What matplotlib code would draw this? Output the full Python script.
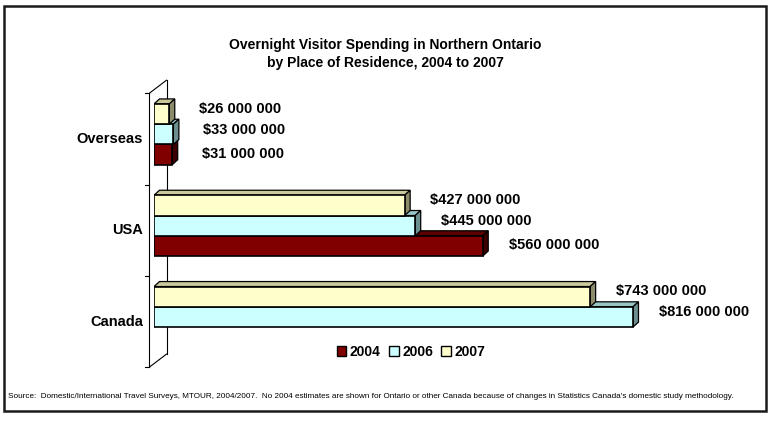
import numpy as np
import matplotlib
matplotlib.use('Agg')
import matplotlib.pyplot as plt
import matplotlib.transforms as mtransforms
from matplotlib.patches import Polygon, Rectangle, Patch

plt.rcParams['font.family'] = ['Liberation Sans', 'DejaVu Sans']

# spending in millions of dollars, bottom-to-top category order
categories = ['Canada', 'USA', 'Overseas']
years = ['2004', '2006', '2007']
spend_2004 = [np.nan, 560, 31]   # no 2004 estimate for Canada
spend_2006 = [816, 445, 33]
spend_2007 = [743, 427, 26]

title_1 = 'Overnight Visitor Spending in Northern Ontario'
title_2 = 'by Place of Residence, 2004 to 2007'
source = ("Source:  Domestic/International Travel Surveys, MTOUR, 2004/2007.  "
          "No 2004 estimates are shown for Ontario or other Canada because of "
          "changes in Statistics Canada's domestic study methodology.")

# front, top, side colours per series
colours = {
    '2004': ('#800000', '#5e0000', '#3d0000'),
    '2006': ('#ccffff', '#99c4c4', '#6b8f8f'),
    '2007': ('#ffffcc', '#c9c99b', '#8c8c6a'),
}

W, H = 770, 424
fig = plt.figure(figsize=(W / 100, H / 100), dpi=100)


def px_box(left, top, right, bottom):
    return [left / W, 1 - bottom / H, (right - left) / W, (bottom - top) / H]


ax_l, ax_t, ax_r, ax_b = 154, 88.7, 741, 362.6
ax = fig.add_axes(px_box(ax_l, ax_t, ax_r, ax_b))
ax.set_xlim(0, 1000)
ax.set_ylim(-0.5, 2.5)
ax.axis('off')

ax_wpx = ax_r - ax_l
ax_hpx = ax_b - ax_t
px_x = ax_wpx / 1000.0
px_y = ax_hpx / 3.0

# 3-D depth of the bars
ddx = 5.5 / px_x
ddy = 5.0 / px_y
bar_h = 0.222

# walls: front edge and back edge of the plot box
fx, fy = -4.7 / ax_wpx, -4.6 / ax_hpx
bx, by = 12.5 / ax_wpx, 8.5 / ax_hpx
wall = dict(transform=ax.transAxes, clip_on=False, color='black', lw=0.8, zorder=1)
ax.plot([fx, fx], [fy, 1 + fy], **wall)
ax.plot([bx, bx], [by, 1 + by], **wall)
ax.plot([fx, bx], [1 + fy, 1 + by], **wall)
ax.plot([fx, bx], [fy, by], **wall)
for t in [0, 1 / 3, 2 / 3, 1]:
    ax.plot([fx - 4 / ax_wpx, fx], [t + fy, t + fy], **wall)

# category labels on the front wall
cat_tr = (mtransforms.blended_transform_factory(ax.transAxes, ax.transData)
          + mtransforms.ScaledTranslation(0, -4.6 / 100, fig.dpi_scale_trans))
for i, name in enumerate(categories):
    ax.text((143 - ax_l) / ax_wpx, i, name, transform=cat_tr, ha='right',
            va='center', fontsize=10.5, fontweight='bold')

series = [('2004', spend_2004, -bar_h, 1.0),
          ('2006', spend_2006, 0.0, 4.5),
          ('2007', spend_2007, bar_h, 5.5)]

z = 2.0
for year, values, off, lab_up in series:
    front_c, top_c, side_c = colours[year]
    for i, v in enumerate(values):
        if np.isnan(v):
            continue
        y0 = i + off - bar_h / 2
        y1 = y0 + bar_h
        top = Polygon([(0, y1), (v, y1), (v + ddx, y1 + ddy), (ddx, y1 + ddy)],
                      closed=True, fc=top_c, ec='black', lw=0.9, zorder=z)
        side = Polygon([(v, y0), (v + ddx, y0 + ddy), (v + ddx, y1 + ddy), (v, y1)],
                       closed=True, fc=side_c, ec='black', lw=0.9, zorder=z)
        ax.add_patch(top)
        ax.add_patch(side)
        ax.barh(i + off, v, height=bar_h, color=front_c, edgecolor='black',
                lw=1.2, zorder=z + 0.001)
        z += 0.01
        label = '$' + f'{int(v * 1e6):,}'.replace(',', ' ')
        ax.annotate(label, xy=(v, i + off), xytext=(71 * 0.72, lab_up * 0.72),
                    textcoords='offset points', ha='center', va='center',
                    fontsize=10.5, fontweight='bold', zorder=10)

fig.text(385 / W, 1 - 45 / H, title_1, ha='center', va='center',
         fontsize=10, fontweight='bold')
fig.text(385 / W, 1 - 63 / H, title_2, ha='center', va='center',
         fontsize=10, fontweight='bold')

handles = [Patch(fc=colours[y][0], ec='black', lw=1.0) for y in years]
fig.legend(handles, years, loc='center', bbox_to_anchor=(411 / W, 1 - 352 / H),
           ncol=3, frameon=False, prop=dict(weight='bold', size=10),
           handlelength=0.7, handleheight=0.7, handletextpad=0.25,
           columnspacing=0.6, borderaxespad=0)

fig.text(8 / W, 1 - 396 / H, source, ha='left', va='center', fontsize=5.9)

fig.patches.append(Rectangle(px_box(4, 6, 766, 411)[:2], 762 / W, 405 / H,
                             transform=fig.transFigure, fill=False,
                             ec='#1a1a1a', lw=1.8))

fig.savefig('out.png', dpi=100, facecolor='white')
